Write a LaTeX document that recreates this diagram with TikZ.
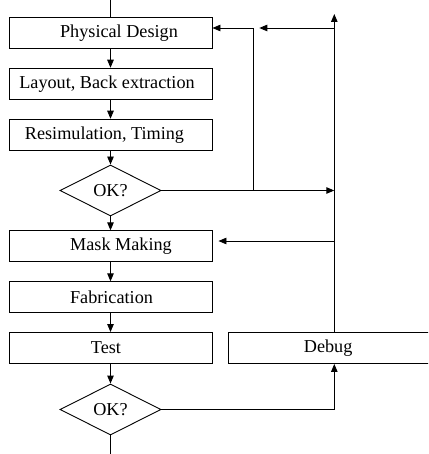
\documentclass[tikz,border=0pt]{standalone}
\usepackage{fontspec}
\setmainfont{Liberation Serif}
\usetikzlibrary{shapes.geometric,arrows.meta}
\begin{document}
\begin{tikzpicture}[x=1pt,y=1pt,line width=0.9pt,
  font=\fontsize{18.2}{22}\selectfont,
  stepbox/.style={draw,rectangle,minimum width=203pt,minimum height=31pt,inner sep=0pt},
  decide/.style={draw,diamond,aspect=2,inner sep=0pt,minimum width=101pt,minimum height=51pt},
  arr/.style={-{Triangle[length=8pt,width=6.5pt]}}]
\useasboundingbox (0,0) rectangle (428,-454);
\clip (0,0) rectangle (428,-454);
% main column
\node[stepbox] (PD) at (110.5,-32.7) {\hspace*{17pt}Physical Design};
\node[stepbox] (LB) at (110.5,-83.7) {Layout, Back extraction\hspace*{7pt}};
\node[stepbox] (RT) at (110.5,-134.7) {Resimulation, Timing\hspace*{12pt}};
\node[decide] (D1) at (110.5,-190.5) {OK?};
\node[stepbox] (MM) at (110.5,-246.3) {\hspace*{21pt}Mask Making};
\node[stepbox] (FB) at (110.5,-297.3) {\hspace*{2pt}Fabrication};
\node[stepbox] (TS) at (110.5,-348) {Test\hspace*{9pt}};
\node[decide] (D2) at (110.5,-409.5) {OK?};
\node[stepbox,minimum width=220pt,anchor=west] (DB) at (227.7,-348) {\hspace*{-20pt}Debug};
% helper coordinates
\coordinate (top) at (110.5,0);
\coordinate (bot) at (110.5,-454);
\coordinate (ja) at (253.3,-28);
\coordinate (jb) at (334.3,-28);
\coordinate (jtop) at (334.3,-14);
\coordinate (jm) at (334.3,-241);
% main flow
\draw (top) -- (PD.north);
\draw[arr] (PD) -- (LB);
\draw[arr] (LB) -- (RT);
\draw[arr] (RT) -- (D1);
\draw[arr] (D1) -- (MM);
\draw[arr] (MM) -- (FB);
\draw[arr] (FB) -- (TS);
\draw[arr] (TS) -- (D2);
\draw (D2.south) -- (bot);
% feedback from first decision
\draw[arr] (D1.east) -- (D1.east -| jb);
\draw[arr] (D1.east -| ja) -- (ja) -- (PD.east |- ja);
% debug loop
\draw[arr] (D2.east) -- (D2.east -| jb) -- (DB.south -| jb);
\draw[arr] (DB.north -| jb) -- (jtop);
\draw[arr] (jb) -- ([xshift=6pt]ja);
\draw[arr] (jm) -- ([xshift=6pt]MM.east |- jm);
\end{tikzpicture}
\end{document}
